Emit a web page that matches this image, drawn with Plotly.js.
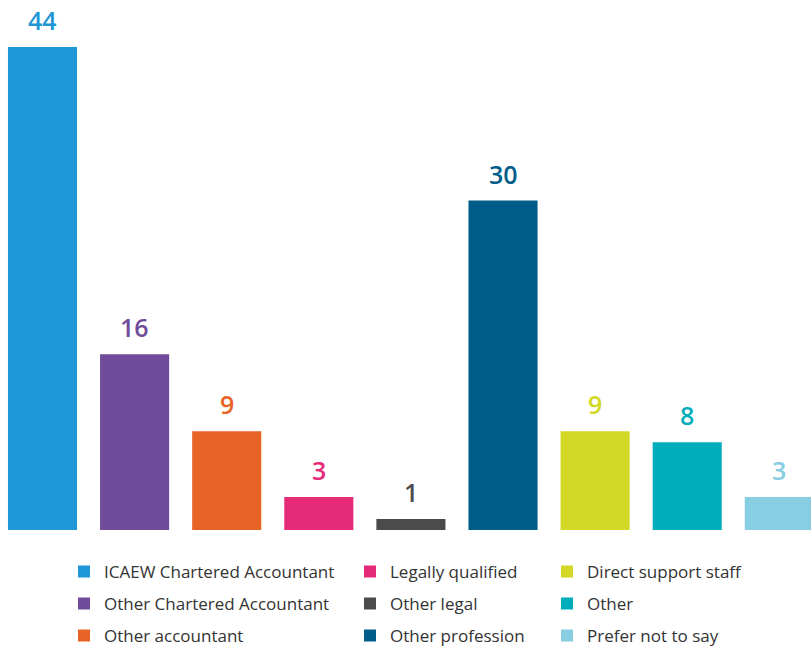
<!DOCTYPE html>
<html>
<head>
<meta charset="utf-8">
<script src="https://cdn.plot.ly/plotly-3.0.1.min.js"></script>
<style>
  html, body { margin: 0; padding: 0; background: #fff; }
  #chart { width: 811px; height: 648px; }
</style>
</head>
<body>
<div id="chart"></div>
<script>
// categories and counts
const categories = [
    'ICAEW Chartered Accountant',
    'Other Chartered Accountant',
    'Other accountant',
    'Legally qualified',
    'Other legal',
    'Other profession',
    'Direct support staff',
    'Other',
    'Prefer not to say',
];
const counts = [44, 16, 9, 3, 1, 30, 9, 8, 3];

const barColors = ['#1f96d5', '#6f4b99', '#e86326', '#e52b78', '#4b4b4b', '#005d89', '#d3d826', '#00adba', '#88cee3'];
const legendIds = ['legend', 'legend2', 'legend3'];
const legendX = [64, 350, 547]; // left pixel of each legend column

const W = 811, PLOT_H = 530;

// one trace per category so each gets its own legend entry
const traces = categories.map((name, i) => ({
    type: 'bar',
    x: [name],
    y: [counts[i]],
    name: name,
    width: 0.75,
    marker: { color: barColors[i] },
    legend: legendIds[Math.floor(i / 3)],
    legendgroup: 'g' + i,
    hoverinfo: 'x+y',
}));

// value labels above each bar
const annotations = categories.map((name, i) => ({
    x: name,
    y: counts[i],
    text: String(counts[i]),
    showarrow: false,
    yanchor: 'middle',
    yshift: 27,
    font: { family: 'Open Sans, sans-serif', size: 25, color: barColors[i], weight: 600 },
}));

const legendBase = {
    orientation: 'v',
    yanchor: 'top',
    xanchor: 'left',
    y: -0.045,
    traceorder: 'grouped',
    tracegroupgap: 7,
    bgcolor: 'rgba(0,0,0,0)',
    font: { family: 'Open Sans, sans-serif', size: 17, color: '#333333' },
};

const layout = {
    width: W,
    height: 648,
    margin: { l: 0, r: 0, t: 0, b: 648 - PLOT_H, autoexpand: false },
    paper_bgcolor: '#ffffff',
    plot_bgcolor: '#ffffff',
    barmode: 'overlay',
    showlegend: true,
    xaxis: { visible: false, range: [-0.4615, 8.344], fixedrange: true },
    yaxis: { visible: false, range: [0, 48.27], fixedrange: true },
    annotations: annotations,
};
legendIds.forEach((id, k) => {
    layout[id] = { ...legendBase, x: legendX[k] / W };
});

Plotly.newPlot('chart', traces, layout, { displayModeBar: false, responsive: false });
</script>
</body>
</html>
